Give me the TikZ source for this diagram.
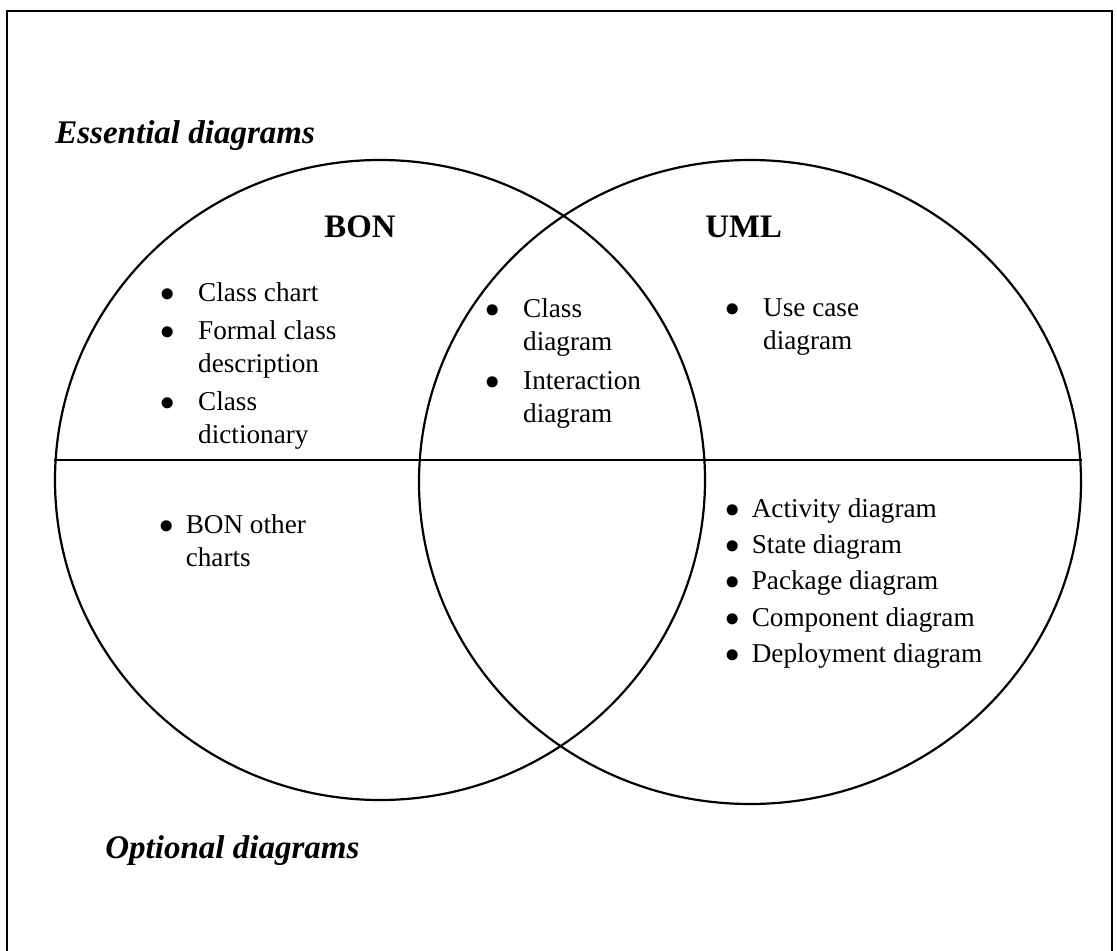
\documentclass[tikz,border=0pt]{standalone}
\usepackage{fontspec}
\setmainfont{Liberation Serif}
\usepackage{array}
\usetikzlibrary{shapes.geometric}

% bullet columns: wide gap in the upper half, narrow gap in the lower half
\newcolumntype{W}{@{}l@{\hspace{11.7pt}}l@{}}
\newcolumntype{N}{@{}l@{\hspace{6pt}}l@{}}
\newcommand{\bul}{$\bullet$}

\tikzset{
  frame/.style={line width=1pt},
  set/.style={draw, ellipse, line width=1.1pt, inner sep=0pt},
  divide/.style={line width=1pt},
  head/.style={anchor=base west, inner sep=0pt, font=\bfseries\fontsize{16.4}{20}\selectfont},
  kind/.style={anchor=base west, inner sep=0pt, font=\bfseries\itshape\fontsize{16.5}{20}\selectfont},
  list/.style={anchor=base west, inner sep=0pt, font=\fontsize{13.6}{16.5}\selectfont}
}

\begin{document}
\begin{tikzpicture}[x=0.5pt,y=-0.5pt]
\useasboundingbox (0,0) rectangle (1117,951);

% page frame
  \draw[frame] (7,951) -- (7,11) -- (1112,11) -- (1112,951);

% define the two sets
  \node[set, minimum width=325pt, minimum height=320pt] (bon) at (380,480) {};
  \node[set, minimum width=331pt, minimum height=322pt] (uml) at (750,482) {};

% essential / optional split
  \coordinate (split) at (0,460);
  \draw[divide] (bon.west |- split) -- (uml.east |- split);

% labels
  \node[kind] (essential) at (55,144)  {Essential diagrams};
  \node[kind] (optional)  at (105,858) {Optional diagrams};
  \node[head] (bonhead)   at (324,238) {BON};
  \node[head] (umlhead)   at (705,238) {UML};

% essential diagrams
  \node[list] (boness) at (160,302)
{\begin{tabular}[t]{W}
\bul & Class chart\\[2.5pt]
\bul & Formal class\\
     & description\\[2.5pt]
\bul & Class\\
     & dictionary
\end{tabular}};
  \node[list] (bothess) at (485,318)
{\begin{tabular}[t]{W}
\bul & Class\\
     & diagram\\[3pt]
\bul & Interaction\\
     & diagram
\end{tabular}};
  \node[list] (umless) at (725,317)
{\begin{tabular}[t]{W}
\bul & Use case\\
     & diagram
\end{tabular}};

% optional diagrams
  \node[list] (bonopt) at (159,533)
{\begin{tabular}[t]{N}
\bul & BON other\\
     & charts
\end{tabular}};
  \node[list] (umlopt) at (725,517)
{\begin{tabular}[t]{N}
\bul & Activity diagram\\[1.7pt]
\bul & State diagram\\[1.7pt]
\bul & Package diagram\\[1.7pt]
\bul & Component diagram\\[1.7pt]
\bul & Deployment diagram
\end{tabular}};

\end{tikzpicture}
\end{document}
